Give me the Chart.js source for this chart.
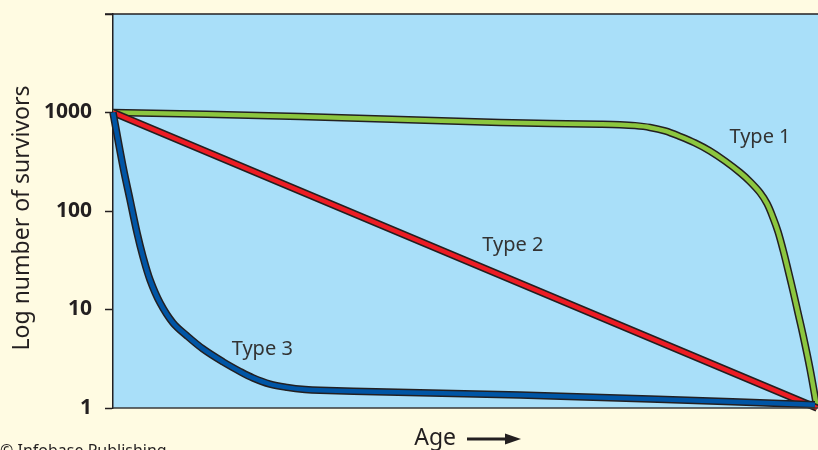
<!DOCTYPE html>
<html><head><meta charset="utf-8">
<script src="https://cdn.jsdelivr.net/npm/chart.js@4/dist/chart.umd.min.js"></script>
<style>html,body{margin:0;padding:0;background:#fffbe2;}#wrap{width:818px;height:450px;}</style>
</head><body><div id="wrap"><canvas id="c" width="818" height="450"></canvas></div>
<script>
// ---- data ----
const yTicks = [1, 10, 100, 1000, 10000];
const yTickLabels = ['1', '10', '100', '1000', ''];
const type1Age = [0, 26.56, 54.97, 69.18, 72.02, 74.15, 76.28, 78.41, 80.54, 82.67, 84.8, 86.93, 89.06, 90.48, 91.9, 92.9, 93.75, 94.46, 95.17, 95.88, 96.59, 97.3, 98.01, 99.01, 100];
const type1Val = [1000, 912, 793, 760, 751, 736, 705, 650, 571, 491, 407, 322, 246, 199, 154, 119, 85.7, 61.7, 40.5, 25.3, 15.5, 9.25, 5.53, 2.49, 1];
const type2Age = [0, 100];
const type2Val = [1000, 1];
const type3Age = [0, 1.42, 2.41, 3.41, 4.26, 5.26, 6.68, 8.52, 10.51, 12.78, 15.63, 18.04, 19.89, 22.3, 24.72, 27.27, 29.4, 38.9, 48.3, 57.8, 76.3, 99.7];
const type3Val = [1000, 283, 131, 60.3, 34.4, 20.0, 11.7, 7.32, 5.40, 3.98, 2.94, 2.35, 2.02, 1.75, 1.62, 1.54, 1.51, 1.455, 1.404, 1.356, 1.235, 1.08];
const seriesNames = ['Type 1', 'Type 2', 'Type 3'];
const yTitle = 'Log number of survivors';
const xTitle = 'Age';
const credit = '\u00A9 Infobase Publishing';

const pts = (a, v) => a.map((x, i) => ({x: x, y: v[i]}));
const series = [pts(type1Age, type1Val), pts(type2Age, type2Val), pts(type3Age, type3Val)];
const colors = ['#8cc63f', '#ed1c24', '#0055a5'];
const outline = '#231f20';
// label anchors in data space
const labelAnchors = [{x: 91.9, y: 558}, {x: 56.8, y: 44.5}, {x: 21.2, y: 3.9}];

const datasets = [];
series.forEach((s, i) => {
  const common = {data: s, pointRadius: 0, tension: 0.35, cubicInterpolationMode: 'default', clip: false, borderJoinStyle: 'round', borderCapStyle: 'butt'};
  datasets.push(Object.assign({}, common, {borderColor: outline, borderWidth: 7.5, order: 10 - 2 * i}));
  datasets.push(Object.assign({}, common, {borderColor: colors[i], borderWidth: 4.5, order: 9 - 2 * i}));
});

const FONT = '"Noto Sans", "Open Sans", sans-serif';

const deco = {
  id: 'deco',
  beforeDraw(chart) {
    const {ctx, chartArea: a} = chart;
    ctx.save();
    ctx.fillStyle = '#fffbe2';
    ctx.fillRect(0, 0, chart.width, chart.height);
    ctx.fillStyle = '#a9dff9';
    ctx.fillRect(a.left, a.top, chart.width - a.left, a.bottom - a.top);
    ctx.restore();
  },
  afterDatasetsDraw(chart) {
    const {ctx, chartArea: a, scales: {x, y}} = chart;
    ctx.save();
    ctx.strokeStyle = outline; ctx.lineWidth = 1.5;
    ctx.beginPath(); ctx.moveTo(a.left - 8, a.top); ctx.lineTo(chart.width, a.top); ctx.stroke();
    ctx.strokeStyle = '#3a3a3a';
    ctx.beginPath(); ctx.moveTo(a.left, a.bottom); ctx.lineTo(chart.width, a.bottom); ctx.stroke();
    ctx.fillStyle = '#333333';
    ctx.font = '20px ' + FONT;
    ctx.textAlign = 'center'; ctx.textBaseline = 'middle';
    seriesNames.forEach((n, i) => {
      ctx.fillText(n, x.getPixelForValue(labelAnchors[i].x), y.getPixelForValue(labelAnchors[i].y));
    });
    // y title
    ctx.fillStyle = '#231f20';
    ctx.font = '23px ' + FONT;
    ctx.save();
    ctx.translate(22, 218); ctx.rotate(-Math.PI / 2);
    ctx.textAlign = 'center'; ctx.textBaseline = 'middle';
    ctx.fillText(yTitle, 0, 0);
    ctx.restore();
    // x title + arrow
    ctx.textAlign = 'right'; ctx.textBaseline = 'alphabetic';
    ctx.fillText(xTitle, 456, 445);
    ctx.strokeStyle = '#231f20'; ctx.lineWidth = 3;
    ctx.beginPath(); ctx.moveTo(467, 439); ctx.lineTo(508, 439); ctx.stroke();
    ctx.beginPath(); ctx.moveTo(521, 439); ctx.lineTo(505, 433.5); ctx.lineTo(505, 444.5); ctx.closePath(); ctx.fill();
    ctx.font = '16px ' + FONT;
    ctx.textAlign = 'left'; ctx.textBaseline = 'alphabetic';
    ctx.fillText(credit, 0, 456);
    ctx.restore();
  }
};

new Chart(document.getElementById('c'), {
  type: 'line',
  data: {datasets},
  plugins: [deco],
  options: {
    responsive: false,
    animation: false,
    events: [],
    layout: {padding: {top: 14, right: 0, bottom: 42, left: 0}},
    plugins: {legend: {display: false}, tooltip: {enabled: false}},
    scales: {
      x: {
        type: 'linear', min: 0, max: 100.14,
        display: true,
        ticks: {display: false},
        grid: {display: false, drawTicks: false},
        border: {display: false},
        title: {display: false, text: xTitle}
      },
      y: {
        type: 'logarithmic', min: 1, max: 10000,
        afterBuildTicks: s => { s.ticks = yTicks.map(v => ({value: v})); },
        afterFit: s => { s.width = 113; s.paddingTop = 0; s.paddingBottom = 0; },
        ticks: {
          callback: (v) => yTickLabels[yTicks.indexOf(v)] ?? '',
          color: '#231f20', padding: 13,
          font: {family: FONT, size: 21, weight: 'bold'}
        },
        grid: {drawOnChartArea: false, tickLength: 8, tickColor: outline, tickWidth: 1.5},
        border: {display: true, color: outline, width: 1.5},
        title: {display: false, text: yTitle}
      }
    }
  }
});
</script></body></html>
